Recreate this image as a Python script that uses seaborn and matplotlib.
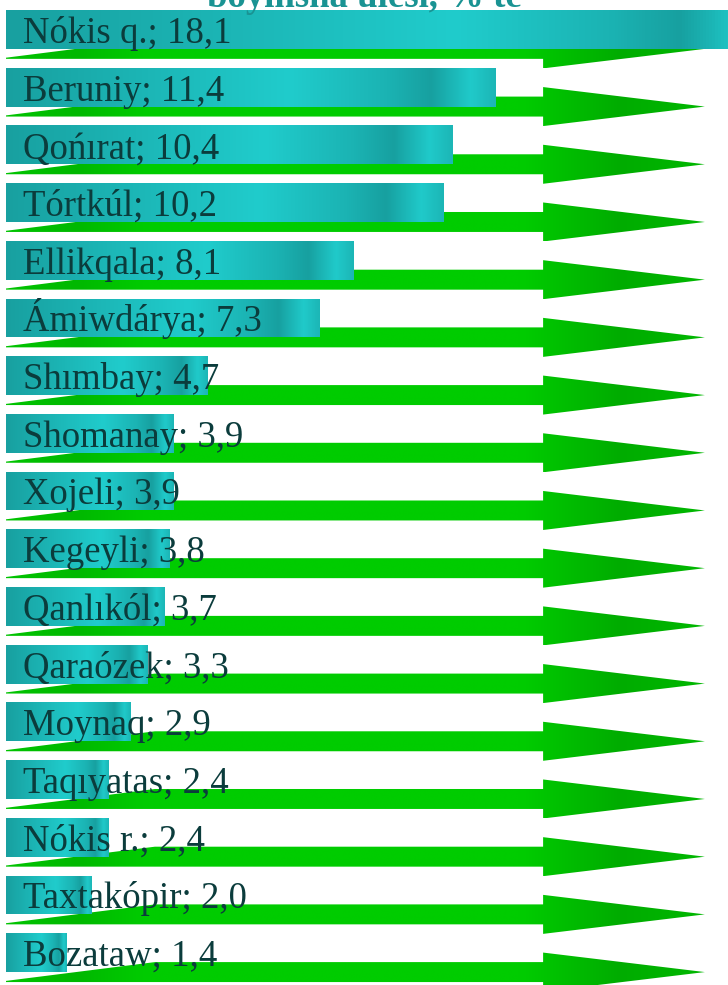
import numpy as np
import pandas as pd
import matplotlib
matplotlib.use("Agg")
import matplotlib.pyplot as plt
import seaborn as sns
from matplotlib.colors import LinearSegmentedColormap
from matplotlib.patches import Polygon

# data
districts = ["Nókis q.", "Beruniy", "Qońırat", "Tórtkúl", "Ellikqala", "Ámiwdárya",
             "Shımbay", "Shomanay", "Xojeli", "Kegeyli", "Qanlıkól", "Qaraózek",
             "Moynaq", "Taqıyatas", "Nókis r.", "Taxtakópir", "Bozataw"]
shares = [18.1, 11.4, 10.4, 10.2, 8.1, 7.3, 4.7, 3.9, 3.9, 3.8, 3.7, 3.3,
          2.9, 2.4, 2.4, 2.0, 1.4]
title_text = "boyınsha úlesi, % te"

df = pd.DataFrame({"district": districts, "share": shares})

sns.set_theme(style="white")
serif = ["Liberation Serif", "DejaVu Serif"]

fig = plt.figure(figsize=(7.28, 9.85), dpi=100)
ax = fig.add_axes([0, 0, 1, 1])

bar_h = 0.672
sns.barplot(data=df, x="share", y="district", orient="h", width=bar_h,
            color="#1aa3a3", ax=ax, zorder=3)

grad = np.linspace(0, 1, 256).reshape(1, -1)

# teal "metallic" gradient on every bar
bar_cmap = LinearSegmentedColormap.from_list(
    "bar", [(0, "#18a0a0"), (0.58, "#20cccc"), (0.78, "#1bb3b3"),
            (0.87, "#17a0a0"), (0.95, "#20caca"), (1, "#1cb6b6")])
for bar in ax.patches:
    x0, y0 = bar.get_x(), bar.get_y()
    w, h = bar.get_width(), bar.get_height()
    im = ax.imshow(grad, cmap=bar_cmap, aspect="auto", interpolation="bicubic",
                   extent=(x0, x0 + w, y0 + h, y0), zorder=3)
    im.set_clip_path(bar)
    bar.set_facecolor("none")
    bar.set_edgecolor("none")

# decorative green arrows behind each bar
shaft_end, tip, taper = 12.52, 16.29, 3.47
shaft_half, head_half = 0.173, 0.338
arrow_cmap = LinearSegmentedColormap.from_list(
    "arrow", [(0, "#00c400"), (0.1, "#00b800"), (0.2, "#00cc00"),
              (0.74, "#00cc00"), (0.88, "#00ac00"), (1, "#00b800")])
for i in range(len(districts)):
    yc = i + bar_h / 2
    pts = [(0, yc + shaft_half - 0.02), (taper, yc - shaft_half),
           (shaft_end, yc - shaft_half), (shaft_end, yc - head_half),
           (tip, yc), (shaft_end, yc + head_half),
           (shaft_end, yc + shaft_half), (0, yc + shaft_half)]
    poly = Polygon(pts, closed=True, facecolor="none", edgecolor="none")
    ax.add_patch(poly)
    im = ax.imshow(grad, cmap=arrow_cmap, aspect="auto", interpolation="bicubic",
                   extent=(0, tip, yc + head_half, yc - head_half), zorder=1)
    im.set_clip_path(poly)

# labels "Name; value"
for i, (name, val) in enumerate(zip(districts, shares)):
    label = f"{name}; " + f"{val:.1f}".replace(".", ",")
    ax.text(0.39, i + bar_h / 2 - 0.104, label, ha="left", va="baseline",
            fontsize=26.5, family=serif, color="#0b3c3c", zorder=5)

ax.set_xlim(-0.14, 16.83)
ax.set_ylim(16.56, -0.511)
ax.set_axis_off()

fig.text(0.5, 1 - 7 / 985, title_text, ha="center", va="baseline",
         fontsize=26.5, fontweight="bold", family=serif, color="#1a9393", zorder=5)

fig.savefig("out.png", dpi=100)
